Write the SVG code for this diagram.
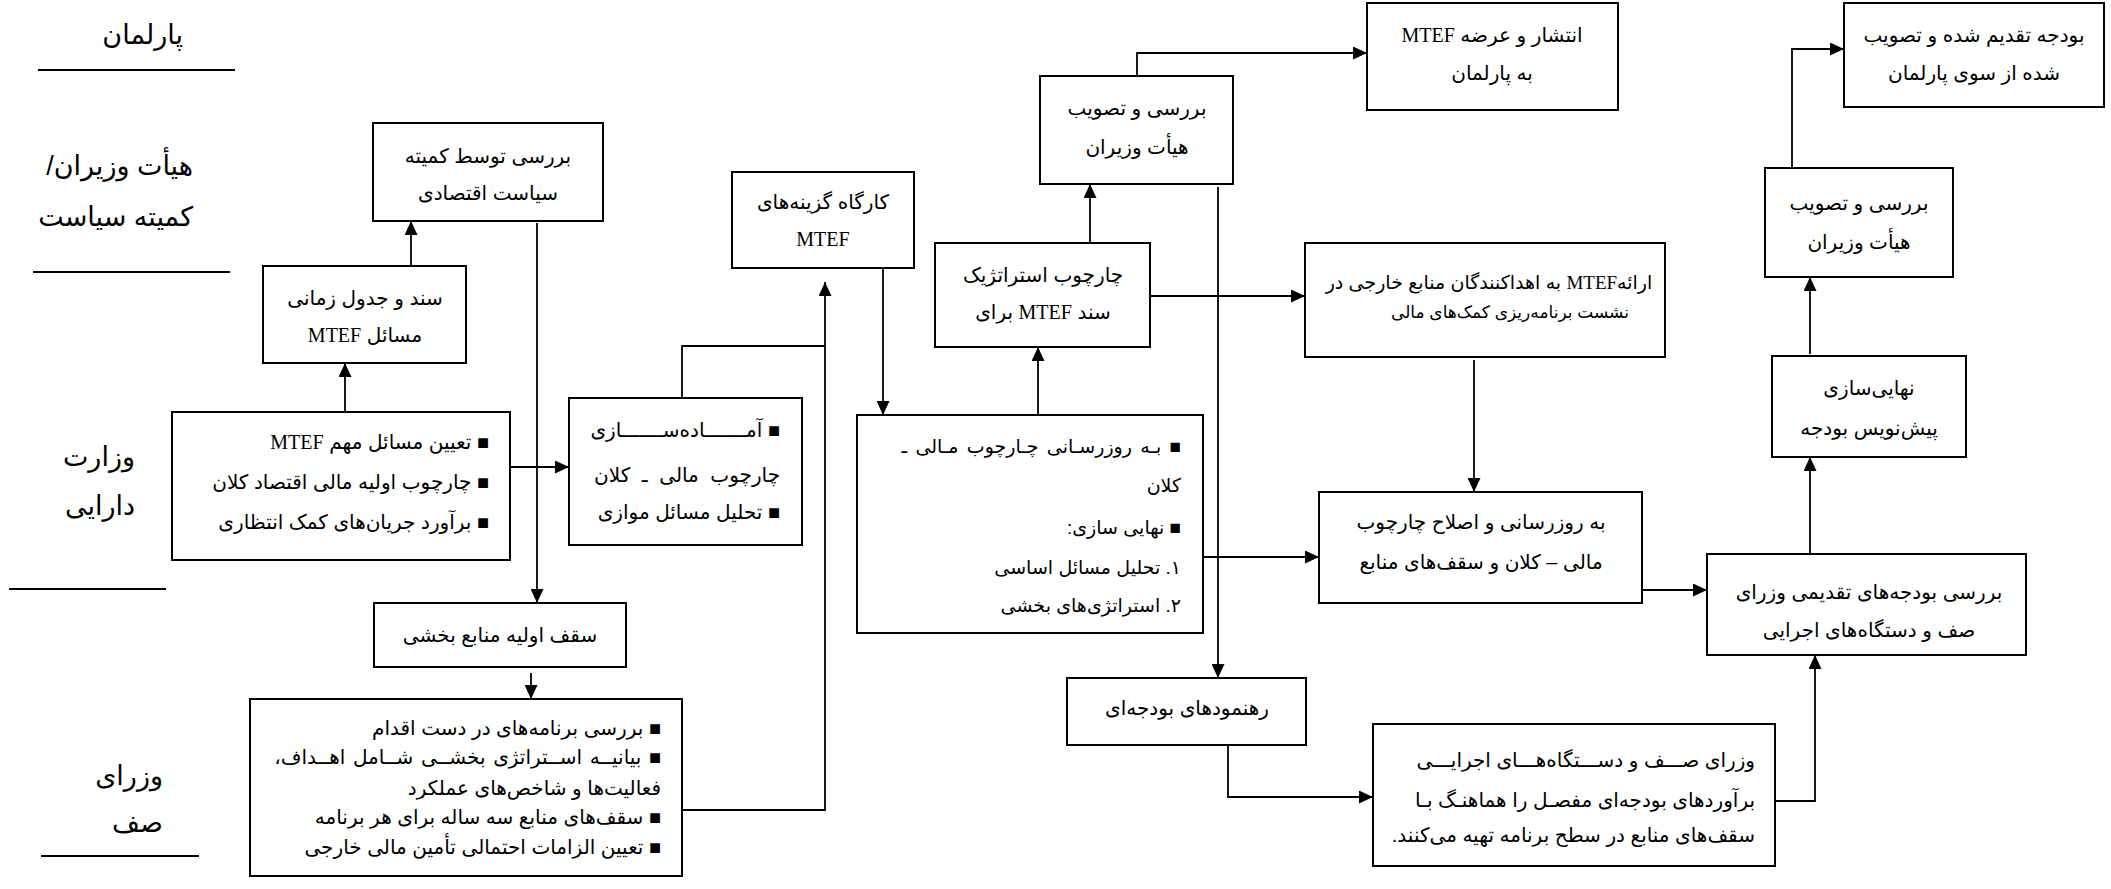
<svg xmlns="http://www.w3.org/2000/svg" width="2111" height="889" viewBox="0 0 2111 889">
<style>
.t{font-family:"Liberation Sans","DejaVu Sans",sans-serif;font-size:20px;fill:#000}
.s{font-size:19px}
.xs{font-size:19px}
.xxs{font-size:17px}
.lane{font-size:27px}
.m{font-family:"Liberation Serif","Times New Roman",serif}
.c{text-anchor:middle;direction:rtl}
.r{text-anchor:start;direction:rtl}
.b{fill:#fff;stroke:#000;stroke-width:2}
.k{fill:none;stroke:#000;stroke-width:1.8}
.l{stroke:#000;stroke-width:2}
</style>
<defs>
<marker id="ah" markerUnits="userSpaceOnUse" markerWidth="15" markerHeight="13" refX="14" refY="6.5" orient="auto"><path d="M0,0 L14,6.5 L0,13 z" fill="#000"/></marker>
</defs>
<rect width="2111" height="889" fill="#fff"/>
<g id="lanes">
<text class="t lane r" x="183" y="44">پارلمان</text>
<line class="l" x1="38" y1="70" x2="235" y2="70"/>
<text class="t lane r" x="193" y="175">هیأت وزیران/</text>
<text class="t lane r" x="193" y="226">کمیته سیاست</text>
<line class="l" x1="33" y1="272" x2="230" y2="272"/>
<text class="t lane r" x="135" y="466">وزارت</text>
<text class="t lane r" x="135" y="515">دارایی</text>
<line class="l" x1="9" y1="589" x2="166" y2="589"/>
<text class="t lane r" x="163" y="785">وزرای</text>
<text class="t lane r" x="163" y="832">صف</text>
<line class="l" x1="41" y1="856" x2="199" y2="856"/>
</g>
<g id="connectors">
<path class="k" d="M345,412 V363" marker-end="url(#ah)"/>
<path class="k" d="M411,266 V221" marker-end="url(#ah)"/>
<path class="k" d="M537,223 V603" marker-end="url(#ah)"/>
<path class="k" d="M510,467 H569" marker-end="url(#ah)"/>
<path class="k" d="M531,673 V699" marker-end="url(#ah)"/>
<path class="k" d="M682,810 H825 V282" marker-end="url(#ah)"/>
<path class="k" d="M682,398 V346 H825"/>
<path class="k" d="M883,268 V415" marker-end="url(#ah)"/>
<path class="k" d="M1038,415 V347" marker-end="url(#ah)"/>
<path class="k" d="M1090,243 V184" marker-end="url(#ah)"/>
<path class="k" d="M1137,76 V53 H1367" marker-end="url(#ah)"/>
<path class="k" d="M1218,187 V678" marker-end="url(#ah)"/>
<path class="k" d="M1150,296 H1305" marker-end="url(#ah)"/>
<path class="k" d="M1203,557 H1319" marker-end="url(#ah)"/>
<path class="k" d="M1474,360 V492" marker-end="url(#ah)"/>
<path class="k" d="M1642,590 H1707" marker-end="url(#ah)"/>
<path class="k" d="M1228,745 V797 H1373" marker-end="url(#ah)"/>
<path class="k" d="M1775,801 H1815 V655" marker-end="url(#ah)"/>
<path class="k" d="M1810,554 V457" marker-end="url(#ah)"/>
<path class="k" d="M1810,354 V277" marker-end="url(#ah)"/>
<path class="k" d="M1792,168 V49 H1844" marker-end="url(#ah)"/>
</g>
<g id="n_committee">
<rect class="b" x="373" y="123" width="230" height="98"/>
<text class="t c" x="488" y="163">بررسی توسط کمیته</text>
<text class="t c" x="488" y="200">سیاست اقتصادی</text>
</g>
<g id="n_schedule">
<rect class="b" x="263" y="266" width="203" height="97"/>
<text class="t c" x="365" y="305">سند و جدول زمانی</text>
<text class="t c" x="365" y="342">مسائل <tspan class="m">MTEF</tspan></text>
</g>
<g id="n_mof">
<rect class="b" x="172" y="412" width="338" height="148"/>
<text class="t r" x="489" y="449">■ تعیین مسائل مهم <tspan class="m">MTEF</tspan></text>
<text class="t r" x="489" y="489">■ چارچوب اولیه مالی اقتصاد کلان</text>
<text class="t r" x="489" y="529">■ برآورد جریان‌های کمک انتظاری</text>
</g>
<g id="n_prep">
<rect class="b" x="569" y="398" width="233" height="147"/>
<text class="t r" x="780" y="437">■ آمـــــــاده‌ســـــــازی</text>
<text class="t r" x="780" y="482" style="word-spacing:6px">چارچوب مالی ـ کلان</text>
<text class="t r" x="780" y="519">■ تحلیل مسائل موازی</text>
</g>
<g id="n_ceiling">
<rect class="b" x="374" y="603" width="252" height="64"/>
<text class="t c" x="500" y="642">سقف اولیه منابع بخشی</text>
</g>
<g id="n_sector">
<rect class="b" x="250" y="699" width="432" height="177"/>
<text class="t r" x="661" y="735">■ بررسی برنامه‌های در دست اقدام</text>
<text class="t r" x="661" y="764" style="word-spacing:2px">■ بیانیــه اســتراتژی بخشــی شــامل اهــداف،</text>
<text class="t r" x="661" y="795">فعالیت‌ها و شاخص‌های عملکرد</text>
<text class="t r" x="661" y="824">■ سقف‌های منابع سه ساله برای هر برنامه</text>
<text class="t r" x="661" y="854">■ تعیین الزامات احتمالی تأمین مالی خارجی</text>
</g>
<g id="n_workshop">
<rect class="b" x="732" y="172" width="182" height="96"/>
<text class="t c" x="823" y="209">کارگاه گزینه‌های</text>
<text class="t c m" x="823" y="246">MTEF</text>
</g>
<g id="n_strategic">
<rect class="b" x="935" y="243" width="215" height="104"/>
<text class="t c" x="1043" y="282">چارچوب استراتژیک</text>
<text class="t c" x="1043" y="319">سند <tspan class="m">MTEF</tspan> برای</text>
</g>
<g id="n_update">
<rect class="b" x="857" y="415" width="346" height="218"/>
<text class="t s r" x="1181" y="453" style="word-spacing:3px">■ بـه روزرسـانی چـارچوب مـالی ـ</text>
<text class="t s r" x="1181" y="492">کلان</text>
<text class="t s r" x="1181" y="534">■ نهایی سازی:</text>
<text class="t s r" x="1181" y="574">۱. تحلیل مسائل اساسی</text>
<text class="t s r" x="1181" y="612">۲. استراتژی‌های بخشی</text>
</g>
<g id="n_cabinet1">
<rect class="b" x="1040" y="76" width="193" height="108"/>
<text class="t c" x="1137" y="115">بررسی و تصویب</text>
<text class="t c" x="1137" y="154">هیأت وزیران</text>
</g>
<g id="n_publish">
<rect class="b" x="1367" y="3" width="251" height="107"/>
<text class="t c" x="1492" y="42">انتشار و عرضه <tspan class="m">MTEF</tspan></text>
<text class="t c" x="1492" y="80">به پارلمان</text>
</g>
<g id="n_donors">
<rect class="b" x="1305" y="243" width="360" height="114"/>
<text class="t xs c" x="1489" y="289">ارائه<tspan class="m">MTEF</tspan> به اهداکنندگان منابع خارجی در</text>
<text class="t xxs c" x="1510" y="318">نشست برنامه‌ریزی کمک‌های مالی</text>
</g>
<g id="n_revise">
<rect class="b" x="1319" y="492" width="323" height="111"/>
<text class="t c" x="1481" y="529">به روزرسانی و اصلاح چارچوب</text>
<text class="t c" x="1481" y="569">مالی – کلان و سقف‌های منابع</text>
</g>
<g id="n_guidelines">
<rect class="b" x="1067" y="678" width="239" height="67"/>
<text class="t c" x="1187" y="715">رهنمودهای بودجه‌ای</text>
</g>
<g id="n_lineministries">
<rect class="b" x="1373" y="724" width="402" height="142"/>
<text class="t r" x="1755" y="767">وزرای صـــف و دســـتگاه‌هـــای اجرایـــی</text>
<text class="t r" x="1755" y="807">برآوردهای بودجه‌ای مفصـل را هماهنـگ بـا</text>
<text class="t r" x="1755" y="842">سقف‌های منابع در سطح برنامه تهیه می‌کنند.</text>
</g>
<g id="n_review">
<rect class="b" x="1707" y="554" width="319" height="101"/>
<text class="t c" x="1869" y="599">بررسی بودجه‌های تقدیمی وزرای</text>
<text class="t c" x="1869" y="637">صف و دستگاه‌های اجرایی</text>
</g>
<g id="n_finalize">
<rect class="b" x="1772" y="356" width="194" height="101"/>
<text class="t c" x="1869" y="395">نهایی‌سازی</text>
<text class="t c" x="1869" y="435">پیش‌نویس بودجه</text>
</g>
<g id="n_cabinet2">
<rect class="b" x="1765" y="168" width="188" height="109"/>
<text class="t c" x="1859" y="210">بررسی و تصویب</text>
<text class="t c" x="1859" y="249">هیأت وزیران</text>
</g>
<g id="n_approved">
<rect class="b" x="1844" y="3" width="260" height="104"/>
<text class="t c" x="1974" y="42">بودجه تقدیم شده و تصویب</text>
<text class="t c" x="1974" y="80">شده از سوی پارلمان</text>
</g>
</svg>
